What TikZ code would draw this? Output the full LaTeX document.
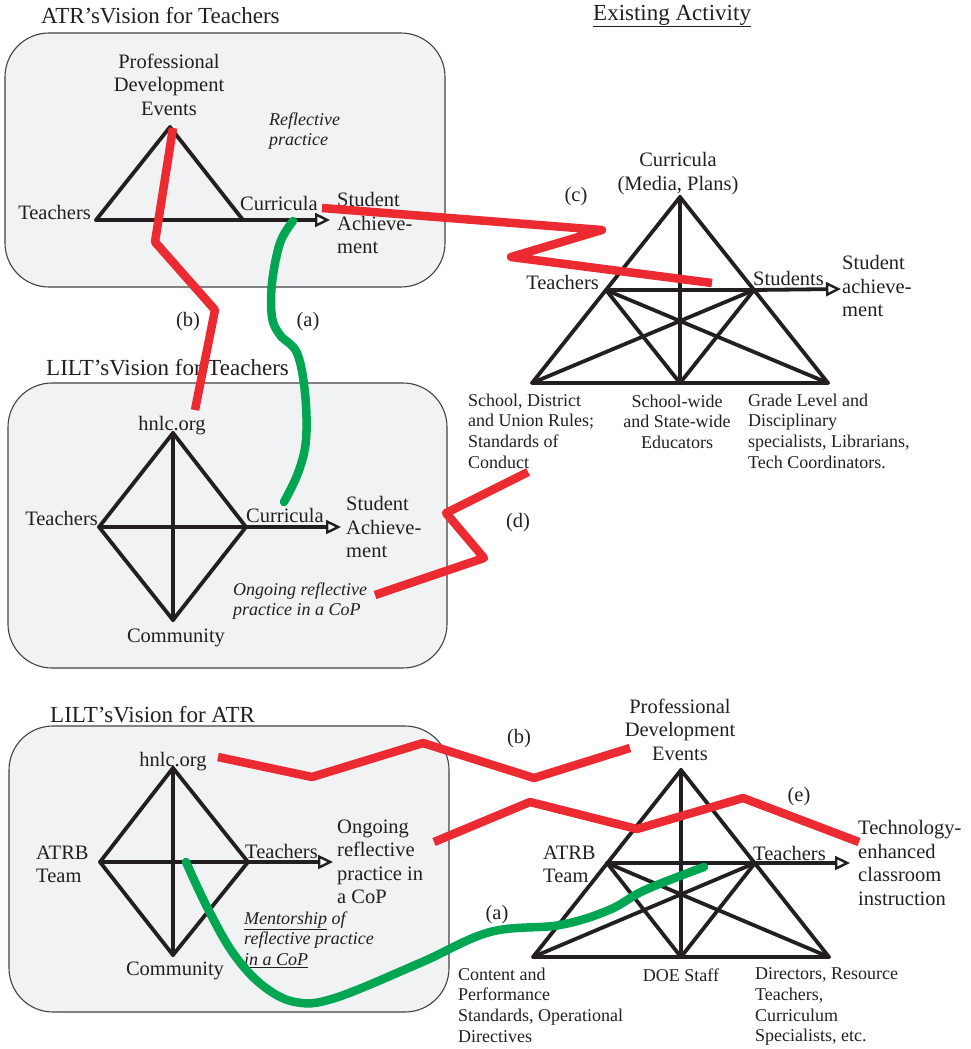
\documentclass[tikz,border=0pt]{standalone}
\usepackage{fontspec}
\setmainfont{Liberation Serif}
\usetikzlibrary{arrows.meta}
\definecolor{annred}{HTML}{EC2A31}
\definecolor{anngreen}{HTML}{00A651}
\definecolor{boxfill}{HTML}{F1F2F4}
\definecolor{ink}{HTML}{231F20}
\begin{document}
\begin{tikzpicture}[x=1pt,y=-1pt,
  vbox/.style={draw=ink!85, line width=1.1pt, fill=boxfill, rounded corners=44pt, inner sep=0pt},
  edge/.style={draw=ink, line width=3.8pt, line cap=round, line join=round},
  arr/.style={draw=ink, line width=3.8pt, line cap=round, -{Triangle[length=15pt,width=14pt,line width=2.4pt,fill=white]}},
  main/.style={font=\fontsize{20.5}{23.5}\selectfont, text=ink, inner sep=0pt, align=left},
  small/.style={font=\fontsize{18}{20.7}\selectfont, text=ink, inner sep=0pt, align=left},
  ital/.style={font=\fontsize{18}{20.5}\selectfont\itshape, text=ink, inner sep=0pt, align=left},
  ttl/.style={font=\fontsize{23}{26}\selectfont, text=ink, inner sep=0pt},
  redl/.style={draw=annred, line width=8.5pt, line join=round},
  grnl/.style={draw=anngreen, line width=8.5pt, line cap=round}]
\useasboundingbox (0,0) rectangle (970,1049);

% ---------- boxes ----------
\node[vbox, minimum width=440pt, minimum height=254pt] (box1) at (225,160) {};
\node[vbox, minimum width=439pt, minimum height=285pt] (box2) at (227.5,525.5) {};
\node[vbox, minimum width=440pt, minimum height=286pt] (box3) at (229,869) {};

% ---------- top-left triangle ----------
\coordinate (p1) at (170,127);
\coordinate (t1) at (96,220);
\coordinate (c1) at (243,220);
\coordinate (e1) at (330,220);
\draw[edge] (t1) -- (p1) -- (c1);
\draw[arr] (t1) -- (e1);

% ---------- existing activity triangle ----------
\coordinate (ap) at (680,197);
\coordinate (bl) at (532,383);
\coordinate (br) at (828,383);
\coordinate (bm) at (680,383);
\coordinate (te) at (606,290);
\coordinate (st) at (754,290);
\coordinate (se) at (841,289);
\draw[edge] (ap) -- (bl) -- (br) -- cycle;
\draw[edge] (ap) -- (bm);
\draw[edge] (te) -- (st);
\draw[edge] (te) -- (bm) -- (st);
\draw[edge] (te) -- (br);
\draw[edge] (st) -- (bl);
\draw[arr] (st) -- (se);

% ---------- middle diamond ----------
\coordinate (d2t) at (173,433);
\coordinate (d2l) at (99,527);
\coordinate (d2r) at (246,527);
\coordinate (d2b) at (173,620);
\coordinate (d2e) at (341,527);
\draw[edge] (d2t) -- (d2l) -- (d2b) -- (d2r) -- cycle;
\draw[edge] (d2t) -- (d2b);
\draw[arr] (d2l) -- (d2e);

% ---------- bottom diamond ----------
\coordinate (d3t) at (173,768);
\coordinate (d3l) at (100,862);
\coordinate (d3r) at (248,862);
\coordinate (d3b) at (173,955);
\coordinate (d3e) at (333,862);
\draw[edge] (d3t) -- (d3l) -- (d3b) -- (d3r) -- cycle;
\draw[edge] (d3t) -- (d3b);
\draw[arr] (d3l) -- (d3e);

% ---------- bottom-right triangle ----------
\coordinate (ap2) at (681,770);
\coordinate (bl2) at (533,957);
\coordinate (br2) at (829,957);
\coordinate (bm2) at (681,957);
\coordinate (at2) at (607,863);
\coordinate (te2) at (755,863);
\coordinate (ee2) at (850,863);
\draw[edge] (ap2) -- (bl2) -- (br2) -- cycle;
\draw[edge] (ap2) -- (bm2);
\draw[edge] (at2) -- (te2);
\draw[edge] (at2) -- (bm2) -- (te2);
\draw[edge] (at2) -- (br2);
\draw[edge] (te2) -- (bl2);
\draw[arr] (te2) -- (ee2);

% ---------- texts: top-left ----------
\node[ttl, anchor=west] (title1) at (41,16) {ATR’sVision for Teachers};
\node[main, align=center, anchor=north] (pde1) at (169,53.5) {Professional\\Development\\Events};
\node[main, anchor=east] (tea1) at (91,212) {Teachers};
\node[main, anchor=west] (cur1) at (240,203) {Curricula};
\node[main, anchor=north west] (sa1) at (337,192.5) {Student\\Achieve-\\ment};
\node[ital, anchor=north west] (rp1) at (269,112.5) {Reflective\\practice};

% ---------- texts: existing activity ----------
\node[ttl, anchor=west] (title2) at (593,16) {\underline{Existing Activity}};
\node[main, align=center, anchor=north] (cur2) at (678,152.5) {Curricula\\(Media, Plans)};
\node[main] (lc) at (576,197) {(c)};
\node[main, anchor=east] (tea2) at (599,282) {Teachers};
\node[main, anchor=west] (stu2) at (753,278) {Students};
\node[main, anchor=north west] (sa2) at (842,255.5) {Student\\achieve-\\ment};
\node[small, anchor=north west] (rules) at (468,393.5) {School, District\\and Union Rules;\\Standards of\\Conduct};
\node[small, align=center, anchor=north] (edu) at (677,394.5) {School-wide\\and State-wide\\Educators};
\node[small, anchor=north west] (grade) at (748,393.5) {Grade Level and\\Disciplinary\\specialists, Librarians,\\Tech Coordinators.};

% ---------- texts: middle box ----------
\node[ttl, anchor=west] (title3) at (46,368) {LILT’sVision for Teachers};
\node[main, anchor=base] (hn2) at (172,430) {hnlc.org};
\node[main, anchor=east] (tea3) at (98,518) {Teachers};
\node[main, anchor=west] (cur3) at (246,515) {Curricula};
\node[main, anchor=north west] (sa3) at (346,496.5) {Student\\Achieve-\\ment};
\node[ital, anchor=north west] (orp) at (233,582.5) {Ongoing reflective\\practice in a CoP};
\node[main, anchor=base] (com2) at (176,642) {Community};
\node[main] (lb1) at (188,322) {(b)};
\node[main] (la1) at (308,322) {(a)};
\node[main] (ld) at (518,523) {(d)};

% ---------- texts: bottom box ----------
\node[ttl, anchor=west] (title4) at (50,715) {LILT’sVision for ATR};
\node[main, anchor=base] (hn3) at (173,766) {hnlc.org};
\node[main, anchor=north west] (atrb1) at (36,845.5) {ATRB\\Team};
\node[main, anchor=west] (tea4) at (245,851) {Teachers};
\node[main, anchor=north west] (ong) at (337,819.5) {Ongoing\\reflective\\practice in\\a CoP};
\node[ital, anchor=north west] (ment) at (244,911.5) {\underline{Mentorship} of\\reflective practice\\\underline{in a CoP}};
\node[main, anchor=base] (com3) at (175,975) {Community};

% ---------- texts: bottom right ----------
\node[main] (lb2) at (519,739) {(b)};
\node[main] (le) at (799,797) {(e)};
\node[main] (la2) at (497,915) {(a)};
\node[main, align=center, anchor=north] (pde2) at (680,698.5) {Professional\\Development\\Events};
\node[main, anchor=north west] (atrb2) at (543,845.5) {ATRB\\Team};
\node[main, anchor=west] (tea5) at (753,853) {Teachers};
\node[main, anchor=north west] (tech) at (858,820.5) {Technology-\\enhanced\\classroom\\instruction};
\node[small, anchor=north west] (cps) at (458,967.5) {Content and\\Performance\\Standards, Operational\\Directives};
\node[small, anchor=north] (doe) at (681,968.5) {DOE Staff};
\node[small, anchor=north west] (dir) at (755,967.5) {Directors, Resource\\Teachers,\\Curriculum\\Specialists, etc.};

% ---------- annotations ----------
\draw[redl] (173,128) -- (155,242) -- (215,310) -- (195,410);
\draw[redl] (322,208) -- (602,230) -- (511,257) -- (712,283);
\draw[redl] (528,472) -- (446,513) -- (484,558) -- (375,595);
\draw[redl] (218,757) -- (312,777) -- (423,743) -- (534,778) -- (630,748);
\draw[redl] (434,842) -- (530,802) -- (637,829) -- (743,798) -- (859,842);
\draw[grnl] plot[smooth, tension=0.6] coordinates {(293,221) (280,243) (272,283) (272,317) (280,335) (297,353) (305,393) (306,440) (298,473) (284,502)};
\draw[grnl] plot[smooth, tension=0.6] coordinates {(186,862) (207,907) (233,953) (262,985) (295,1002) (335,998) (420,963) (490,932) (560,925) (609,910) (645,890) (704,867)};
\end{tikzpicture}
\end{document}
